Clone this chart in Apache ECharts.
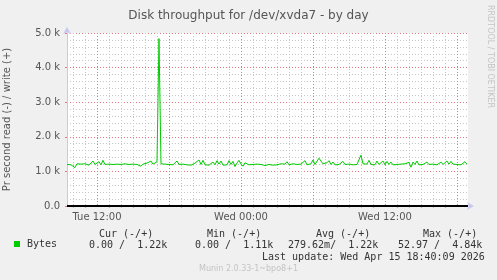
<!DOCTYPE html>
<html><head><meta charset="utf-8">
<script src="https://cdn.jsdelivr.net/npm/echarts@6/dist/echarts.min.js"></script>
<style>html,body{margin:0;padding:0;background:#f0f0f0}#c{width:497px;height:280px}</style>
</head><body><div id="c"></div>
<script>
// write throughput (bytes/s), 10-minute samples from Tue 09:30 (hours since Tue 00:00)
const startHour = 9.5;
const stepHour = 1 / 6;
const writeK = [
1.20,1.21,1.19,1.20,1.11,1.22,1.25,1.21,1.19,1.22,1.20,1.18,1.21,1.30,1.20,1.24,1.28,1.19,1.32,1.20,
1.19,1.21,1.18,1.20,1.19,1.21,1.18,1.20,1.19,1.22,1.18,1.20,1.19,1.21,1.18,1.20,1.19,1.15,1.21,1.19,
1.24,1.20,1.30,1.21,1.19,1.28,4.84,1.22,1.19,1.21,1.18,1.20,1.22,1.19,1.21,1.30,1.20,1.18,1.21,1.26,
1.19,1.22,1.18,1.20,1.24,1.19,1.33,1.20,1.32,1.19,1.21,1.18,1.20,1.27,1.19,1.31,1.21,1.30,1.18,1.22,
1.19,1.31,1.20,1.29,1.14,1.24,1.32,1.21,1.15,1.25,1.30,1.19,1.18,1.20,1.19,1.21,1.18,1.20,1.19,1.17,
1.21,1.20,1.24,1.18,1.21,1.19,1.20,1.22,1.19,1.21,1.28,1.19,1.20,1.22,1.27,1.20,1.19,1.21,1.20,1.31,
1.19,1.20,1.22,1.33,1.20,1.23,1.38,1.30,1.22,1.19,1.25,1.31,1.20,1.27,1.19,1.21,1.20,1.18,1.29,1.20,
1.19,1.21,1.20,1.19,1.21,1.20,1.22,1.47,1.22,1.19,1.21,1.32,1.20,1.22,1.19,1.30,1.20,1.22,1.30,1.19,
1.29,1.20,1.27,1.19,1.21,1.20,1.19,1.21,1.20,1.22,1.19,1.26,1.12,1.27,1.20,1.30,1.19,1.21,1.20,1.19,
1.27,1.20,1.19,1.21,1.20,1.19,1.21,1.27,1.20,1.22,1.30,1.21,1.29,1.21,1.19,1.20,1.21,1.19,1.20,1.28,
1.21
];
const xMin = 9.5, xMax = 42.92;
const minorHours = [10,11,13,14,15,16,17,19,20,21,22,23,25,26,27,28,29,31,32,33,34,35,37,38,39,40,41];
const majorHours = [12,18,24,30,36,42];
const labelHours = [12,24,36];
const labelNames = {12:'Tue 12:00', 24:'Wed 00:00', 36:'Wed 12:00'};
const seriesName = 'Bytes';
const statHeaders = ['Cur (-/+)','Min (-/+)','Avg (-/+)','Max (-/+)'];
const statValues = ['0.00 /  1.22k','0.00 /  1.11k','279.62m/  1.22k','52.97 /  4.84k'];
const lastUpdate = 'Last update: Wed Apr 15 18:40:09 2026';
const footer = 'Munin 2.0.33-1~bpo8+1';
const watermark = 'RRDTOOL / TOBI OETIKER';

const data = writeK.map((v,i)=>[startHour + i*stepHour, v*1000]);
const mono = 'DejaVu Sans Mono';
const sans = 'DejaVu Sans';
const chart = echarts.init(document.getElementById('c'), null, {renderer:'canvas'});
const hdrX = [99,207,316,423];
const valX = [89,195,288,398];
const graphics = [];
statHeaders.forEach((t,i)=>graphics.push({type:'text',left:hdrX[i],top:229,style:{text:t,font:'10px '+mono,fill:'#333'}}));
statValues.forEach((t,i)=>graphics.push({type:'text',left:valX[i],top:240,style:{text:t,font:'10px '+mono,fill:'#333'}}));
graphics.push({type:'text',left:262,top:252,style:{text:lastUpdate,font:'10px '+mono,fill:'#333'}});
graphics.push({type:'text',left:'center',top:265,style:{text:footer,font:'8px '+sans,fill:'#c4c4c4'}});
graphics.push({type:'text',x:494,y:5,rotation:-Math.PI/2,style:{text:watermark,font:'8px '+sans,fill:'#c4c4c4'}});

const majorColor = '#e27a7a';
const minorColor = '#c6c6c6';

chart.setOption({
  backgroundColor:'#f0f0f0',
  animation:false,
  title:{text:'Disk throughput for /dev/xvda7 - by day',left:'center',top:5,
    textStyle:{fontFamily:sans,fontSize:12,fontWeight:'normal',color:'#555'}},
  legend:{data:[seriesName],left:14,top:239,padding:0,icon:'rect',itemWidth:6,itemHeight:6,itemGap:0,
    textStyle:{fontFamily:mono,fontSize:10,color:'#333',padding:[0,0,0,2]}},
  grid:{left:67,right:29,top:33,bottom:74,show:true,backgroundColor:'#ffffff',borderWidth:0,containLabel:false,outerBoundsMode:'none'},
  xAxis:[
    {type:'value',min:xMin,max:xMax,
      axisLine:{show:true,onZero:false,lineStyle:{color:'#c8c8f0',width:1},symbol:['none','arrow'],symbolSize:[6,7],symbolOffset:[0,6]},
      axisTick:{show:true,customValues:minorHours,length:2,lineStyle:{color:'#bbbbbb'}},
      axisLabel:{customValues:labelHours,formatter:v=>labelNames[v]||'',fontFamily:sans,fontSize:10,color:'#555',margin:6},
      splitLine:{show:true,lineStyle:{color:minorColor,type:[1,2],width:1}}},
    {type:'value',min:xMin,max:xMax,
      axisLine:{show:false},
      axisTick:{show:true,customValues:majorHours,length:2,lineStyle:{color:majorColor}},
      axisLabel:{show:false},
      splitLine:{show:true,lineStyle:{color:majorColor,type:[1,2],width:1}}}
  ],
  yAxis:[
    {type:'value',min:0,max:5000,interval:1000,position:'left',
      name:'Pr second read (-) / write (+)',nameLocation:'middle',nameGap:55,nameRotate:90,
      nameTextStyle:{fontFamily:sans,fontSize:10,color:'#555'},
      axisLine:{show:true,lineStyle:{color:'#c8c8f0'},symbol:['none','arrow'],symbolSize:[6,7],symbolOffset:[0,6]},
      axisTick:{show:true,length:2,lineStyle:{color:majorColor}},
      minorTick:{show:false,splitNumber:5},
      axisLabel:{formatter:v=>v===0?'0.0':(v/1000).toFixed(1)+' k',fontFamily:sans,fontSize:10,color:'#555',margin:7},
      splitLine:{show:true,lineStyle:{color:majorColor,type:[1,2],width:1}},
      minorSplitLine:{show:true,lineStyle:{color:minorColor,type:[1,2],width:1}}}
  ],
  graphic:graphics,
  series:[
    {name:seriesName,type:'line',data:data,z:4,
      showSymbol:false,symbol:'none',color:'#00cc00',lineStyle:{width:1,color:'#00cc00'},
      clip:true,
      markLine:{silent:true,symbol:'none',label:{show:false},lineStyle:{color:'#000',type:'solid',width:2},data:[{yAxis:0}]}}
  ]
});
</script></body></html>
